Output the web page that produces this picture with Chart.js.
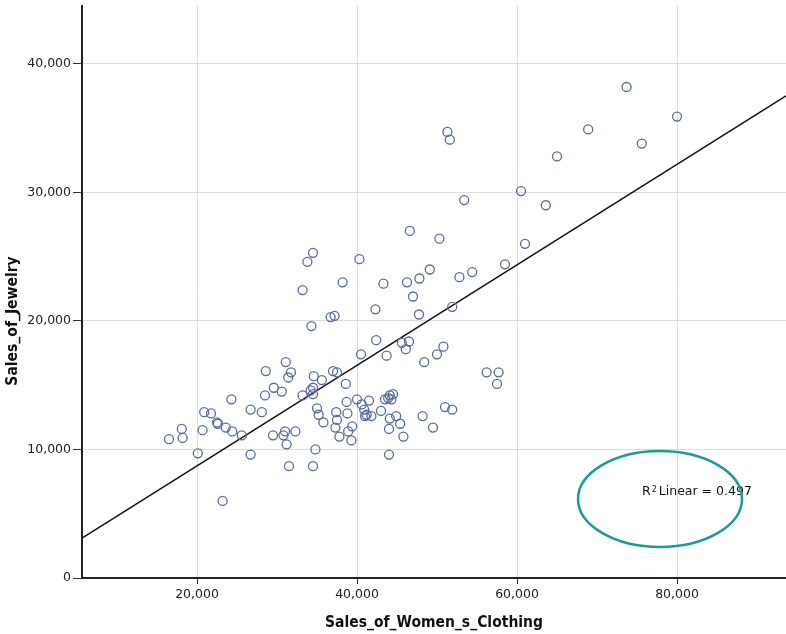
<!DOCTYPE html>
<html>
<head>
<meta charset="utf-8">
<script src="https://cdn.jsdelivr.net/npm/chart.js@4.4.1/dist/chart.umd.min.js"></script>
<style>
  html, body { margin: 0; padding: 0; background: #fff; }
  #wrap { width: 786px; height: 634px; }
</style>
</head>
<body>
<div id="wrap"><canvas id="scatter" width="786" height="634"></canvas></div>
<script>
// Sales_of_Women_s_Clothing (x) vs Sales_of_Jewelry (y)
const clothing = [
  31100, 28600, 31750, 31400, 29600, 30600, 28500, 24300, 26700, 28100,
  20900, 21750, 22500, 22600, 23600, 24400, 25600, 18100, 20700, 18200,
  16500, 29500, 31000, 30800, 32300, 31200, 20100, 26700, 31500, 23200,
  33200, 34600, 34300, 46600, 50300, 34500, 33800, 40300, 38200, 33200,
  43300, 46250, 47800, 49100, 52800, 54400, 47000, 42300, 47750, 51900,
  36700, 37200, 42400, 45600, 46500, 46100, 50800, 50000, 48400, 40500,
  43700, 35600, 37000, 37500, 38600, 34500, 34200, 34500, 35000, 35200,
  35800, 37400, 37500, 37300, 37800, 38700, 38800, 38900, 39400, 39300,
  40000, 40600, 40900, 41000, 41200, 41500, 41800, 43000, 43500, 43900,
  44100, 44500, 44300, 44100, 44900, 45400, 44000, 45800, 48200, 49500,
  51000, 51900, 34800, 34500, 44000, 51300, 51600, 68900, 65000, 60500,
  63600, 53400, 61000, 58500, 56200, 57700, 57500, 73700, 80000, 75600
];
const jewelry = [
  16800, 16100, 16000, 15600, 14800, 14500, 14200, 13900, 13100, 12900,
  12900, 12800, 12100, 12000, 11700, 11400, 11100, 11600, 11500, 10900,
  10800, 11100, 11400, 11100, 11400, 10400, 9700, 9600, 8700, 6000,
  14200, 15700, 19600, 27000, 26400, 25300, 24600, 24800, 23000, 22400,
  22900, 23000, 23300, 24000, 23400, 23800, 21900, 20900, 20500, 21100,
  20300, 20400, 18500, 18300, 18400, 17800, 18000, 17400, 16800, 17400,
  17300, 15400, 16100, 16000, 15100, 14800, 14600, 14300, 13200, 12700,
  12100, 12900, 12300, 11700, 11000, 13700, 12800, 11400, 11800, 10700,
  13900, 13500, 13100, 12600, 12700, 13800, 12600, 13000, 13900, 14000,
  14200, 14300, 13900, 12400, 12600, 12000, 11600, 11000, 12600, 11700,
  13300, 13100, 10000, 8700, 9600, 34700, 34100, 34900, 32800, 30100,
  29000, 29400, 26000, 24400, 16000, 16000, 15100, 38200, 35900, 33800
];

// linear fit line, ends at the axis limits
const fitX = [5625, 93625];
const fitY = [3100, 37500];
const rSquared = 0.497;

const xTicks = [20000, 40000, 60000, 80000];
const yTicks = [0, 10000, 20000, 30000, 40000];
const xMin = 5625, xMax = 93625;
const yMin = 0, yMax = 44500;

const points = clothing.map((x, i) => ({ x, y: jewelry[i] }));
const fitLine = fitX.map((x, i) => ({ x, y: fitY[i] }));

const fmt = v => v.toLocaleString('en-US');

// y title sits a bit below the middle in the original, so it is drawn by hand,
// then the R² label and the teal ellipse over the lower right of the plot
const noteOverlay = {
  id: 'noteOverlay',
  afterDraw(chart) {
    const { ctx } = chart;
    ctx.save();
    ctx.translate(13, 321);
    ctx.rotate(-Math.PI / 2);
    ctx.font = 'bold 15.5px "DejaVu Sans Condensed"';
    ctx.fillStyle = '#111';
    ctx.textAlign = 'center';
    ctx.textBaseline = 'middle';
    ctx.fillText('Sales_of_Jewelry', 0, 0);
    ctx.restore();

    ctx.save();
    ctx.fillStyle = '#111';
    ctx.textBaseline = 'middle';
    ctx.font = '12.5px "DejaVu Sans"';
    let x = 642;
    const y = 492;
    ctx.fillText('R', x, y);
    x += ctx.measureText('R').width;
    ctx.font = '8px "DejaVu Sans"';
    ctx.fillText('2', x + 1, y - 2);
    x += ctx.measureText('2').width + 3;
    ctx.font = '12.5px "DejaVu Sans"';
    ctx.fillText('Linear = ' + rSquared.toFixed(3), x, y);

    ctx.strokeStyle = '#1a9a98';
    ctx.lineWidth = 2.5;
    ctx.beginPath();
    ctx.ellipse(660, 499, 82, 48, 0, 0, Math.PI * 2);
    ctx.stroke();
    ctx.restore();
  }
};

const tickFont = { family: 'DejaVu Sans', size: 12.5 };

new Chart(document.getElementById('scatter'), {
  type: 'scatter',
  data: {
    datasets: [
      {
        label: 'Sales',
        data: points,
        pointStyle: 'circle',
        pointRadius: 4.5,
        pointHoverRadius: 4.5,
        backgroundColor: 'rgba(0,0,0,0)',
        borderColor: '#566c9c',
        borderWidth: 1.3,
      },
      {
        type: 'line',
        label: 'Linear',
        data: fitLine,
        borderColor: '#111',
        borderWidth: 1.5,
        pointRadius: 0,
        fill: false,
      },
    ],
  },
  options: {
    responsive: false,
    animation: false,
    devicePixelRatio: 1,
    layout: { autoPadding: false, padding: { top: 6, right: 0, left: 0, bottom: 0 } },
    plugins: { legend: { display: false }, tooltip: { enabled: false } },
    scales: {
      x: {
        type: 'linear',
        min: xMin,
        max: xMax,
        afterBuildTicks: s => { s.ticks = xTicks.map(value => ({ value })); },
        afterFit: s => { s.height = 56; s.paddingLeft = 0; s.paddingRight = 0; },
        grid: { color: '#dcdcdc', lineWidth: 1, tickColor: '#333', tickLength: 6 },
        border: { display: true, color: '#222', width: 2 },
        ticks: { callback: fmt, color: '#222', font: tickFont, padding: 3, maxRotation: 0 },
        title: { display: true, text: 'Sales_of_Women_s_Clothing', color: '#111', font: { family: 'DejaVu Sans Condensed', size: 15.5, weight: 'bold' }, padding: { top: 0, bottom: 2 } },
      },
      y: {
        type: 'linear',
        min: yMin,
        max: yMax,
        afterBuildTicks: s => { s.ticks = yTicks.map(value => ({ value })); },
        afterFit: s => { s.width = 82; s.paddingTop = 0; s.paddingBottom = 0; },
        grid: {
          color: ctx => (ctx.tick && ctx.tick.value === 0 ? 'rgba(0,0,0,0)' : '#dcdcdc'),
          lineWidth: 1, tickColor: '#333', tickLength: 9,
        },
        border: { display: true, color: '#222', width: 2 },
        ticks: { callback: fmt, color: '#222', font: tickFont, padding: 2 },
        title: { display: false },
      },
    },
  },
  plugins: [noteOverlay],
});
</script>
</body>
</html>
